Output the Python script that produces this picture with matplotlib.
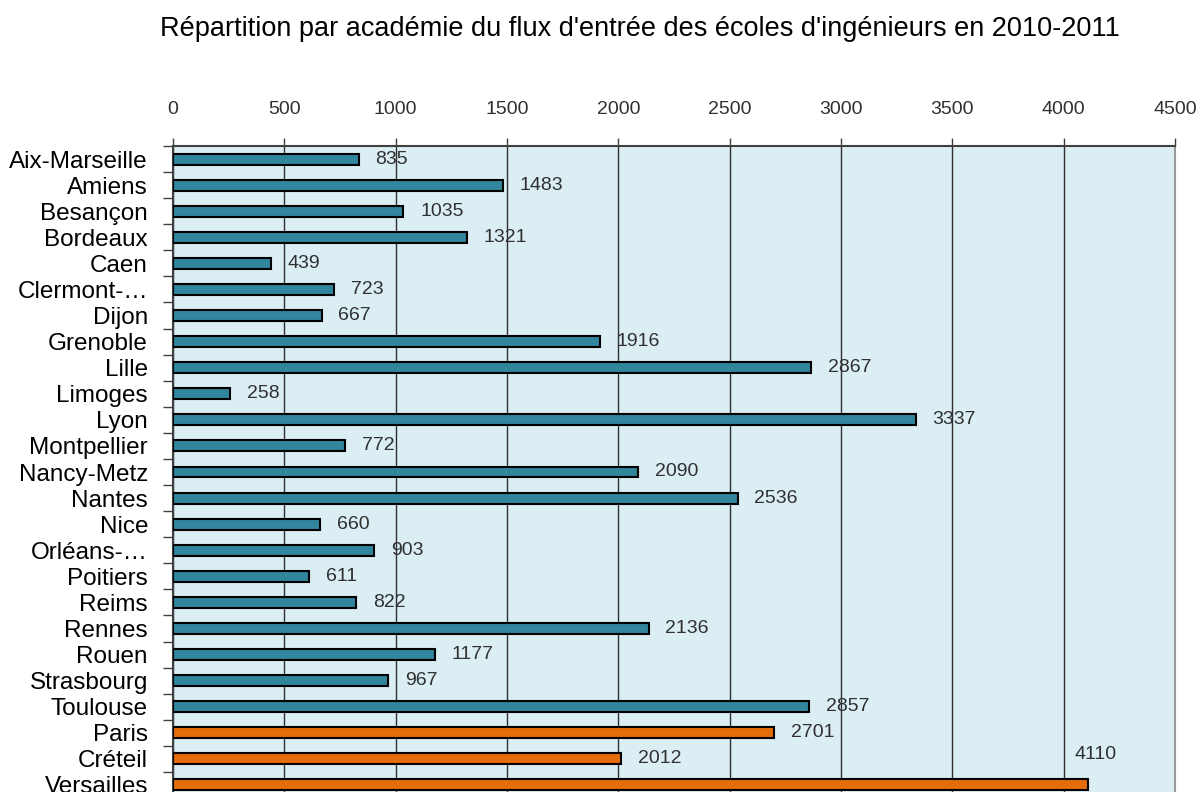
import matplotlib.pyplot as plt
import numpy as np

plt.rcParams['font.family'] = ['Liberation Sans', 'DejaVu Sans']

# academies (top to bottom) and entry flow values
academies = ['Aix-Marseille', 'Amiens', 'Besançon', 'Bordeaux', 'Caen',
             'Clermont-…', 'Dijon', 'Grenoble', 'Lille', 'Limoges', 'Lyon',
             'Montpellier', 'Nancy-Metz', 'Nantes', 'Nice', 'Orléans-…',
             'Poitiers', 'Reims', 'Rennes', 'Rouen', 'Strasbourg', 'Toulouse',
             'Paris', 'Créteil', 'Versailles']
values = [835, 1483, 1035, 1321, 439, 723, 667, 1916, 2867, 258, 3337,
          772, 2090, 2536, 660, 903, 611, 822, 2136, 1177, 967, 2857,
          2701, 2012, 4110]
ile_de_france = ['Paris', 'Créteil', 'Versailles']
x_ticks = [0, 500, 1000, 1500, 2000, 2500, 3000, 3500, 4000, 4500]

teal = '#31859C'
orange = '#E46C0A'
colors = [orange if a in ile_de_france else teal for a in academies]

fig = plt.figure(figsize=(12.01, 7.92), dpi=100)
ax = fig.add_axes([173/1201, -6/792, 1002/1201, 652/792])
ax.set_facecolor('#DBEEF4')

y = np.arange(len(academies))
ax.barh(y, values, height=0.42, color=colors, edgecolor='black', linewidth=1.5, zorder=3)

for yi, v in zip(y, values):
    if v == max(values):
        # Excel put the last label above the bar
        ax.annotate(str(v), (v, yi), xytext=(-10, 22), textcoords='offset points',
                    va='center', ha='left', fontsize=14, color='#303030', zorder=4)
    else:
        ax.annotate(str(v), (v, yi), xytext=(12, 0), textcoords='offset points',
                    va='center', ha='left', fontsize=14, color='#303030', zorder=4)

ax.set_xlim(0, 4500)
ax.set_ylim(len(academies) - 0.5, -0.5)
ax.set_xticks(x_ticks)
ax.xaxis.tick_top()
ax.tick_params(axis='x', direction='out', length=6, width=1, pad=14,
               labelsize=14, labelcolor='#303030', color='#404040')
ax.grid(axis='x', color='#303030', linewidth=1, zorder=1)

ax.set_yticks(y)
ax.set_yticklabels(academies)
ax.set_yticks(np.arange(len(academies) + 1) - 0.5, minor=True)
ax.tick_params(axis='y', which='major', length=0, pad=18, labelsize=17.5)
ax.tick_params(axis='y', which='minor', length=7, width=1, color='#404040')

ax.spines['top'].set_color('#404040')
ax.spines['top'].set_linewidth(1.5)
ax.spines['left'].set_color('#404040')
ax.spines['left'].set_linewidth(1.5)
ax.spines['right'].set_color('#999999')
ax.spines['right'].set_linewidth(1.5)
ax.spines['bottom'].set_visible(False)

fig.text(640/1201, 1 - 29/792, "Répartition par académie du flux d'entrée des écoles d'ingénieurs en 2010-2011",
         ha='center', va='center', fontsize=19.5)

fig.savefig('out.png', dpi=100)
